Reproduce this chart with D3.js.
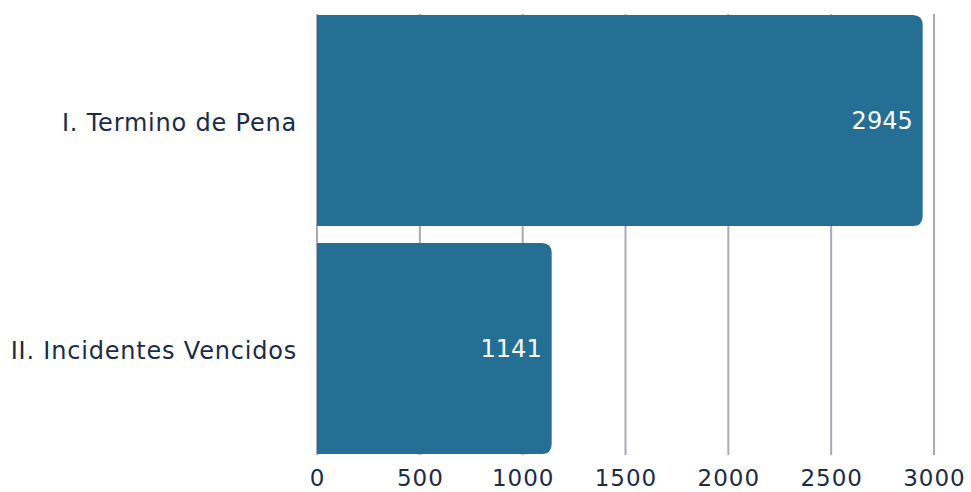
<!DOCTYPE html>
<html>
<head>
<meta charset="utf-8">
<script src="https://cdn.jsdelivr.net/npm/d3@7"></script>
<style>
  body { margin: 0; background: #fff; }
  text { font-family: "DejaVu Sans", sans-serif; }
</style>
</head>
<body>
<div id="chart"></div>
<script>
// datos
const categories = ["I. Termino de Pena", "II. Incidentes Vencidos"];
const values = [2945, 1141];
const tickValues = [0, 500, 1000, 1500, 2000, 2500, 3000];

const W = 971, H = 492;
const margin = {top: 15, right: 37, bottom: 38, left: 317};
const width = W - margin.left - margin.right;
const height = H - margin.top - margin.bottom;

const svg = d3.select("#chart").append("svg")
    .attr("width", W)
    .attr("height", H);

const g = svg.append("g")
    .attr("transform", `translate(${margin.left},${margin.top})`);

const x = d3.scaleLinear().domain([0, 3000]).range([0, width]);
const y = d3.scaleBand().domain(categories).range([0, height]).paddingInner(0.075).paddingOuter(0);

// lineas de la grilla
g.selectAll(".grid")
    .data(tickValues)
    .enter()
    .append("line")
    .attr("x1", d => x(d)).attr("x2", d => x(d))
    .attr("y1", -1).attr("y2", height + 1)
    .attr("stroke", "#aaa7b6")
    .attr("stroke-width", 2);

// barras con esquinas redondeadas a la derecha
const r = 10;
g.selectAll(".bar")
    .data(categories)
    .enter()
    .append("path")
    .attr("fill", "#246f93")
    .attr("d", (c, i) => {
        const x0 = x(0), x1 = x(values[i]);
        const y0 = y(c), y1 = y(c) + y.bandwidth();
        return `M${x0},${y0}H${x1 - r}Q${x1},${y0} ${x1},${y0 + r}V${y1 - r}Q${x1},${y1} ${x1 - r},${y1}H${x0}Z`;
    });

// etiquetas de valores
g.selectAll(".val")
    .data(categories)
    .enter()
    .append("text")
    .attr("x", (c, i) => x(values[i]) - 10)
    .attr("y", c => y(c) + y.bandwidth() / 2 + 8.5)
    .attr("text-anchor", "end")
    .attr("fill", "#fff")
    .style("font-size", "24px")
    .text((c, i) => values[i]);

// categorias
g.selectAll(".cat")
    .data(categories)
    .enter()
    .append("text")
    .attr("x", -20)
    .attr("y", c => y(c) + y.bandwidth() / 2 + 10.5)
    .attr("text-anchor", "end")
    .attr("fill", "#1b2b48")
    .style("font-size", "24px")
    .style("letter-spacing", "0.8px")
    .text(c => c);

// eje x
g.selectAll(".tick-label")
    .data(tickValues)
    .enter()
    .append("text")
    .attr("x", d => x(d) + 0.5)
    .attr("y", height + 32)
    .attr("text-anchor", "middle")
    .attr("fill", "#1b2b48")
    .style("font-size", "23px")
    .style("letter-spacing", "1px")
    .text(d => d);
</script>
</body>
</html>
